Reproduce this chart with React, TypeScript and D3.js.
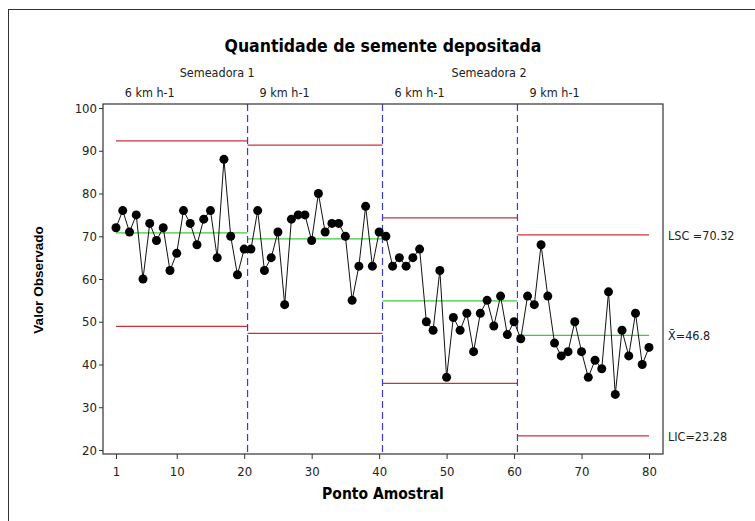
import * as d3 from 'd3';
import React, { useRef, useEffect } from 'react';

// valores observados, 80 pontos amostrais (4 estágios de 20)
const values = [
  72, 76, 71, 75, 60, 73, 69, 72, 62, 66, 76, 73, 68, 74, 76, 65, 88, 70, 61, 67,
  67, 76, 62, 65, 71, 54, 74, 75, 75, 69, 80, 71, 73, 73, 70, 55, 63, 77, 63, 71,
  70, 63, 65, 63, 65, 67, 50, 48, 62, 37, 51, 48, 52, 43, 52, 55, 49, 56, 47, 50,
  46, 56, 54, 68, 56, 45, 42, 43, 50, 43, 37, 41, 39, 57, 33, 48, 42, 52, 40, 44
];

// limites por estágio
const stageStart = [1, 20.5, 40.5, 60.5];
const stageEnd = [20.5, 40.5, 60.5, 80];
const ucl = [92.3, 91.3, 74.3, 70.32];
const center = [70.8, 69.4, 54.9, 46.8];
const lcl = [48.9, 47.3, 35.6, 23.28];

const boundaries = [20.5, 40.5, 60.5];
const speedLabels = ['6 km h-1', '9 km h-1', '6 km h-1', '9 km h-1'];
const speedPos = [6, 26, 46, 66];
const machineLabels = ['Semeadora 1', 'Semeadora 2'];
const machinePos = [16, 56.3];

const xTicks = [1, 10, 20, 30, 40, 50, 60, 70, 80];
const yTicks = [20, 30, 40, 50, 60, 70, 80, 90, 100];

const FONT = "'DejaVu Sans Condensed', 'DejaVu Sans', sans-serif";

function ControlChart() {
  const ref = useRef();

  useEffect(() => {
    const svg = d3.select(ref.current);
    svg.selectAll('*').remove();

    const x = d3.scaleLinear([-0.927, 82.075], [103, 663]);
    const y = d3.scaleLinear([19.06, 100.94], [454, 104]);

    // moldura externa
    svg.append('rect')
      .attr('x', 8.5).attr('y', 9.5)
      .attr('width', 800).attr('height', 600)
      .attr('fill', 'white').attr('stroke', '#333');

    // titulo
    svg.append('text')
      .attr('x', 383).attr('y', 52)
      .attr('text-anchor', 'middle')
      .attr('font-family', FONT)
      .attr('font-weight', 'bold')
      .attr('font-size', 17.5)
      .text('Quantidade de semente depositada');

    svg.selectAll('.machine')
      .data(machineLabels)
      .join('text')
      .attr('x', (d, i) => x(machinePos[i]))
      .attr('y', 77)
      .attr('text-anchor', 'middle')
      .attr('font-family', FONT)
      .attr('font-size', 12.5)
      .attr('fill', '#222')
      .text(d => d);

    svg.selectAll('.speed')
      .data(speedLabels)
      .join('text')
      .attr('x', (d, i) => x(speedPos[i]))
      .attr('y', 97)
      .attr('text-anchor', 'middle')
      .attr('font-family', FONT)
      .attr('font-size', 12.5)
      .attr('fill', '#222')
      .text(d => d);

    // eixos
    const xAxis = d3.axisBottom(x).tickValues(xTicks).tickSize(5).tickSizeOuter(0);
    const gx = svg.append('g').attr('transform', 'translate(0,454)').call(xAxis);
    gx.select('.domain').remove();
    gx.selectAll('text').attr('font-family', FONT).attr('font-size', 13).attr('fill', '#222').attr('dy', '1.05em');
    gx.selectAll('line').attr('stroke', '#333');

    const yAxis = d3.axisLeft(y).tickValues(yTicks).tickSize(4).tickSizeOuter(0);
    const gy = svg.append('g').attr('transform', 'translate(103,0)').call(yAxis);
    gy.select('.domain').remove();
    gy.selectAll('text').attr('font-family', FONT).attr('font-size', 13).attr('fill', '#222').attr('x', -6);
    gy.selectAll('line').attr('stroke', '#333');

    // linhas de limites
    const stages = d3.range(4);
    const limitLine = (arr, color) => {
      svg.append('g').selectAll('line')
        .data(stages)
        .join('line')
        .attr('x1', i => x(stageStart[i]))
        .attr('x2', i => x(stageEnd[i]))
        .attr('y1', i => y(arr[i]))
        .attr('y2', i => y(arr[i]))
        .attr('stroke', color)
        .attr('stroke-width', 1.3);
    };
    limitLine(ucl, '#c8323c');
    limitLine(lcl, '#c8323c');
    limitLine(center, '#3ccc3c');

    // divisões de estágio
    svg.append('g').selectAll('line')
      .data(boundaries)
      .join('line')
      .attr('x1', d => x(d)).attr('x2', d => x(d))
      .attr('y1', 104).attr('y2', 454)
      .attr('stroke', '#3a3acc')
      .attr('stroke-width', 1.2)
      .attr('stroke-dasharray', '7,4');

    // série
    const line = d3.line()
      .x((d, i) => x(i + 1))
      .y(d => y(d));
    svg.append('path')
      .datum(values)
      .attr('d', line)
      .attr('fill', 'none')
      .attr('stroke', '#111')
      .attr('stroke-width', 1);

    svg.append('g').selectAll('circle')
      .data(values)
      .join('circle')
      .attr('cx', (d, i) => x(i + 1))
      .attr('cy', d => y(d))
      .attr('r', 4.5)
      .attr('fill', 'black');

    // quadro
    svg.append('rect')
      .attr('x', 103).attr('y', 104)
      .attr('width', 560).attr('height', 350)
      .attr('fill', 'none').attr('stroke', '#333').attr('stroke-width', 1.2);

    // rótulos dos limites
    const last = 3;
    svg.append('text')
      .attr('x', 668).attr('y', y(ucl[last]) + 5)
      .attr('font-family', FONT).attr('font-size', 12.5).attr('fill', '#222')
      .text(`LSC =${ucl[last]}`);
    svg.append('text')
      .attr('x', 668).attr('y', y(center[last]) + 5)
      .attr('font-family', FONT).attr('font-size', 12.5).attr('fill', '#222')
      .text(`X\u0304=${center[last]}`);
    svg.append('text')
      .attr('x', 668).attr('y', y(lcl[last]) + 5)
      .attr('font-family', FONT).attr('font-size', 12.5).attr('fill', '#222')
      .text(`LIC=${lcl[last]}`);

    // títulos dos eixos
    svg.append('text')
      .attr('x', 383).attr('y', 499)
      .attr('text-anchor', 'middle')
      .attr('font-family', FONT).attr('font-weight', 'bold').attr('font-size', 15.5)
      .text('Ponto Amostral');
    svg.append('text')
      .attr('transform', 'translate(43,280) rotate(-90)')
      .attr('text-anchor', 'middle')
      .attr('font-family', "'Liberation Sans', Arial, sans-serif").attr('font-weight', 'bold').attr('font-size', 13.5)
      .text('Valor Observado');
  });

  return <svg ref={ref} width={755} height={521} style={{ position: 'absolute', left: 0, top: 0, background: 'white' }} />;
}

export default function App() {
  return <ControlChart />;
}
